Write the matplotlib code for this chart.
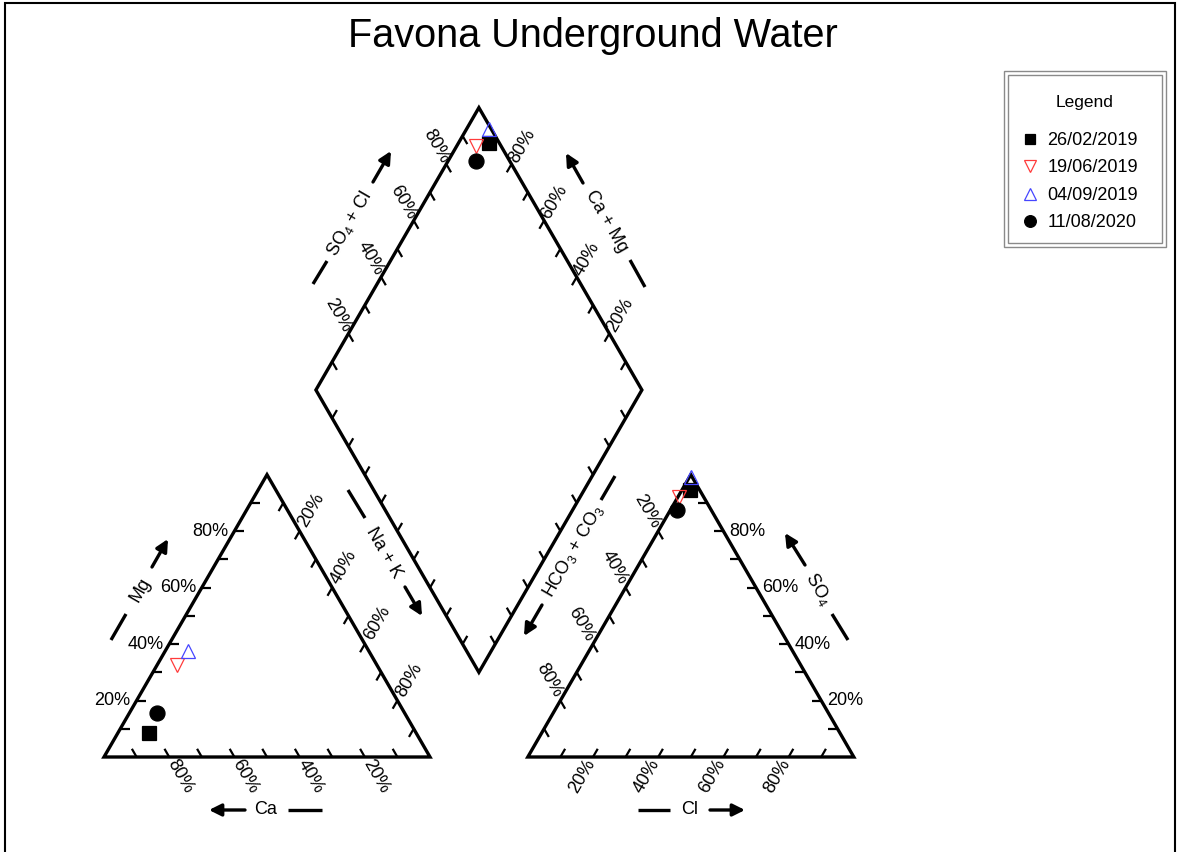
import numpy as np
import matplotlib.pyplot as plt
from matplotlib.patches import Polygon, Rectangle

plt.rcParams['font.family'] = ['Liberation Sans', 'DejaVu Sans']
plt.rcParams['mathtext.default'] = 'regular'

# Sample dates and ion percentages (% of meq)
dates = ['26/02/2019', '19/06/2019', '04/09/2019', '11/08/2020']
ca = [82.0, 61.5, 55.5, 76.0]
mg = [8.5, 32.5, 37.5, 15.5]
na_k = [9.5, 6.0, 7.0, 8.5]
hco3_co3 = [3.0, 7.5, 0.5, 10.5]
so4 = [94.5, 92.0, 99.0, 87.5]
cl = [2.5, 0.5, 0.5, 2.0]

tick_values = [20, 40, 60, 80]
tick_labels = ['20%', '40%', '60%', '80%']

markers = ['s', 'v', '^', 'o']
face_colors = ['black', 'none', 'none', 'black']
edge_colors = ['black', '#ff3b3b', '#4646ff', 'black']
marker_sizes = [9.6, 10.5, 10.5, 10.8]

# geometry (triangle side = 1)
H = np.sqrt(3) / 2
G = 0.30
SCALE = 326.0


def px(x, y):
    # pixel position of the reference image -> data units
    return ((x - 104) / SCALE, (757 - y) / SCALE)


A = np.array([0.0, 0.0])          # 100% Ca
B = np.array([1.0, 0.0])          # 100% Na+K
C = np.array([0.5, H])            # 100% Mg
D = np.array([1 + G, 0.0])        # 100% HCO3+CO3
E = np.array([2 + G, 0.0])        # 100% Cl
F = np.array([1.5 + G, H])        # 100% SO4
DB = np.array([1 + G / 2, G * H])  # diamond bottom
DL = DB + [-0.5, H]
DR = DB + [0.5, H]
DT = DB + [0, 2 * H]

fig = plt.figure(figsize=(11.78, 8.52), dpi=100)
ax = fig.add_axes([0, 0, 1, 1])
ax.set_xlim(-104 / SCALE, 1074 / SCALE)
ax.set_ylim(-95 / SCALE, 757 / SCALE)
ax.axis('off')

LW = 2.4
for verts in [[A, B, C], [D, E, F], [DB, DR, DT, DL]]:
    ax.add_patch(Polygon(verts, closed=True, fill=False, lw=LW, ec='black', joinstyle='miter'))


def unit(v):
    v = np.asarray(v, float)
    return v / np.hypot(*v)


def edge_ticks(p0, p1, direction, length=0.029):
    d = unit(direction)
    for t in np.arange(1, 10) / 10:
        p = p0 + t * (p1 - p0)
        ax.plot([p[0], p[0] + d[0] * length], [p[1], p[1] + d[1] * length],
                color='black', lw=1.6, solid_capstyle='butt')


def edge_labels(p0, p1, direction, dist, rot):
    d = unit(direction)
    for v, lab in zip(tick_values, tick_labels):
        p = p0 + v / 100 * (p1 - p0) + d * dist / SCALE
        ax.text(p[0], p[1], lab, fontsize=13, rotation=rot, ha='center', va='center',
                rotation_mode='anchor')


# cation triangle
edge_ticks(A, C, (1, 0))
edge_labels(A, C, (-1, 0), 24, 0)
edge_ticks(B, A, (-0.5, H))
edge_labels(B, A, (0.5, -H), 22, -60)
edge_ticks(C, B, (-0.5, -H))
edge_labels(C, B, (0.5, H), 24, 60)

# anion triangle
edge_ticks(D, E, (0.5, H))
edge_labels(D, E, (-0.5, -H), 22, 60)
edge_ticks(E, F, (-1, 0))
edge_labels(E, F, (1, 0), 24, 0)
edge_ticks(F, D, (0.5, -H))
edge_labels(F, D, (-0.5, H), 23, -60)

# diamond
edge_ticks(DL, DT, (0.5, -H))
edge_labels(DL, DT, (-0.5, H), 21, -60)
edge_ticks(DR, DT, (-0.5, -H))
edge_labels(DR, DT, (0.5, H), 21, 60)
edge_ticks(DL, DB, (0.5, H))
edge_ticks(DR, DB, (-0.5, H))


def dash(p, q):
    p, q = px(*p), px(*q)
    ax.plot([p[0], q[0]], [p[1], q[1]], color='black', lw=LW, solid_capstyle='butt')


def arrow(tail, head):
    ax.annotate('', xy=px(*head), xytext=px(*tail),
                arrowprops=dict(arrowstyle='-|>', lw=LW, color='black',
                                mutation_scale=18, shrinkA=0, shrinkB=0))


def axis_title(pos, s, rot):
    ax.text(*px(*pos), s, fontsize=13, rotation=rot, ha='center', va='center',
            rotation_mode='anchor')


# axis names with arrows
dash((111, 640), (126, 614))
axis_title((140, 590), 'Mg', 60)
arrow((152, 567), (168, 539))

arrow((245, 810), (209, 810))
axis_title((266, 810), 'Ca', 0)
dash((288, 810), (322, 810))

dash((638, 810), (670, 810))
axis_title((690, 810), 'Cl', 0)
arrow((710, 810), (745, 810))

arrow((805, 565), (785, 533))
axis_title((818, 589), 'SO$_4$', -60)
dash((832, 614), (848, 640))

dash((313, 284), (327, 261))
axis_title((349, 224), 'SO$_4$ + Cl', 60)
arrow((373, 182), (391, 151))

arrow((583, 183), (566, 153))
axis_title((606, 221), 'Ca + Mg', -60)
dash((630, 260), (645, 287))

dash((348, 490), (365, 518))
axis_title((384, 553), 'Na + K', -60)
arrow((405, 587), (422, 616))

dash((615, 476), (601, 500))
axis_title((573, 551), 'HCO$_3$ + CO$_3$', 60)
arrow((542, 605), (524, 636))

# samples: cation triangle, anion triangle, diamond
handles = []
for i in range(len(dates)):
    cx = (na_k[i] + mg[i] / 2) / 100
    cy = mg[i] / 100 * H
    axx = D[0] + (cl[i] + so4[i] / 2) / 100
    ay = so4[i] / 100 * H
    cat = (ca[i] + mg[i]) / 100
    an = (so4[i] + cl[i]) / 100
    dx = DB[0] + 0.5 * (an - cat)
    dy = DB[1] + H * (an + cat)
    h, = ax.plot([cx, axx, dx], [cy, ay, dy], linestyle='none', marker=markers[i],
                 ms=marker_sizes[i], mfc=face_colors[i], mec=edge_colors[i], mew=0.9,
                 label=dates[i], zorder=5)
    handles.append(h)

# legend box
for x0, y0, x1, y1 in [(1004, 71, 1166, 247), (1008, 75, 1162, 243)]:
    fig.patches.append(Rectangle((x0 / 1178, 1 - y1 / 852), (x1 - x0) / 1178, (y1 - y0) / 852,
                                 transform=fig.transFigure, fill=False, ec='#8a8a8a', lw=1.0))
fig.text(1085 / 1178, 1 - 102 / 852, 'Legend', fontsize=12.5, ha='center', va='center')
fig.legend(handles=handles, loc='upper left', bbox_to_anchor=(1021 / 1178, 1 - 132 / 852),
           frameon=False, fontsize=13, handlelength=1.0, handletextpad=0.45,
           labelspacing=0.58, borderpad=0, borderaxespad=0, markerscale=0.78)

fig.text(593 / 1178, 1 - 36 / 852, 'Favona Underground Water', fontsize=28.5,
         ha='center', va='center')

# outer frame
fig.patches.append(Rectangle((5 / 1178, -0.02), 1170 / 1178, 1.02 - 3 / 852,
                             transform=fig.transFigure, fill=False, ec='black', lw=1.5))

fig.savefig('out.png', dpi=100)
